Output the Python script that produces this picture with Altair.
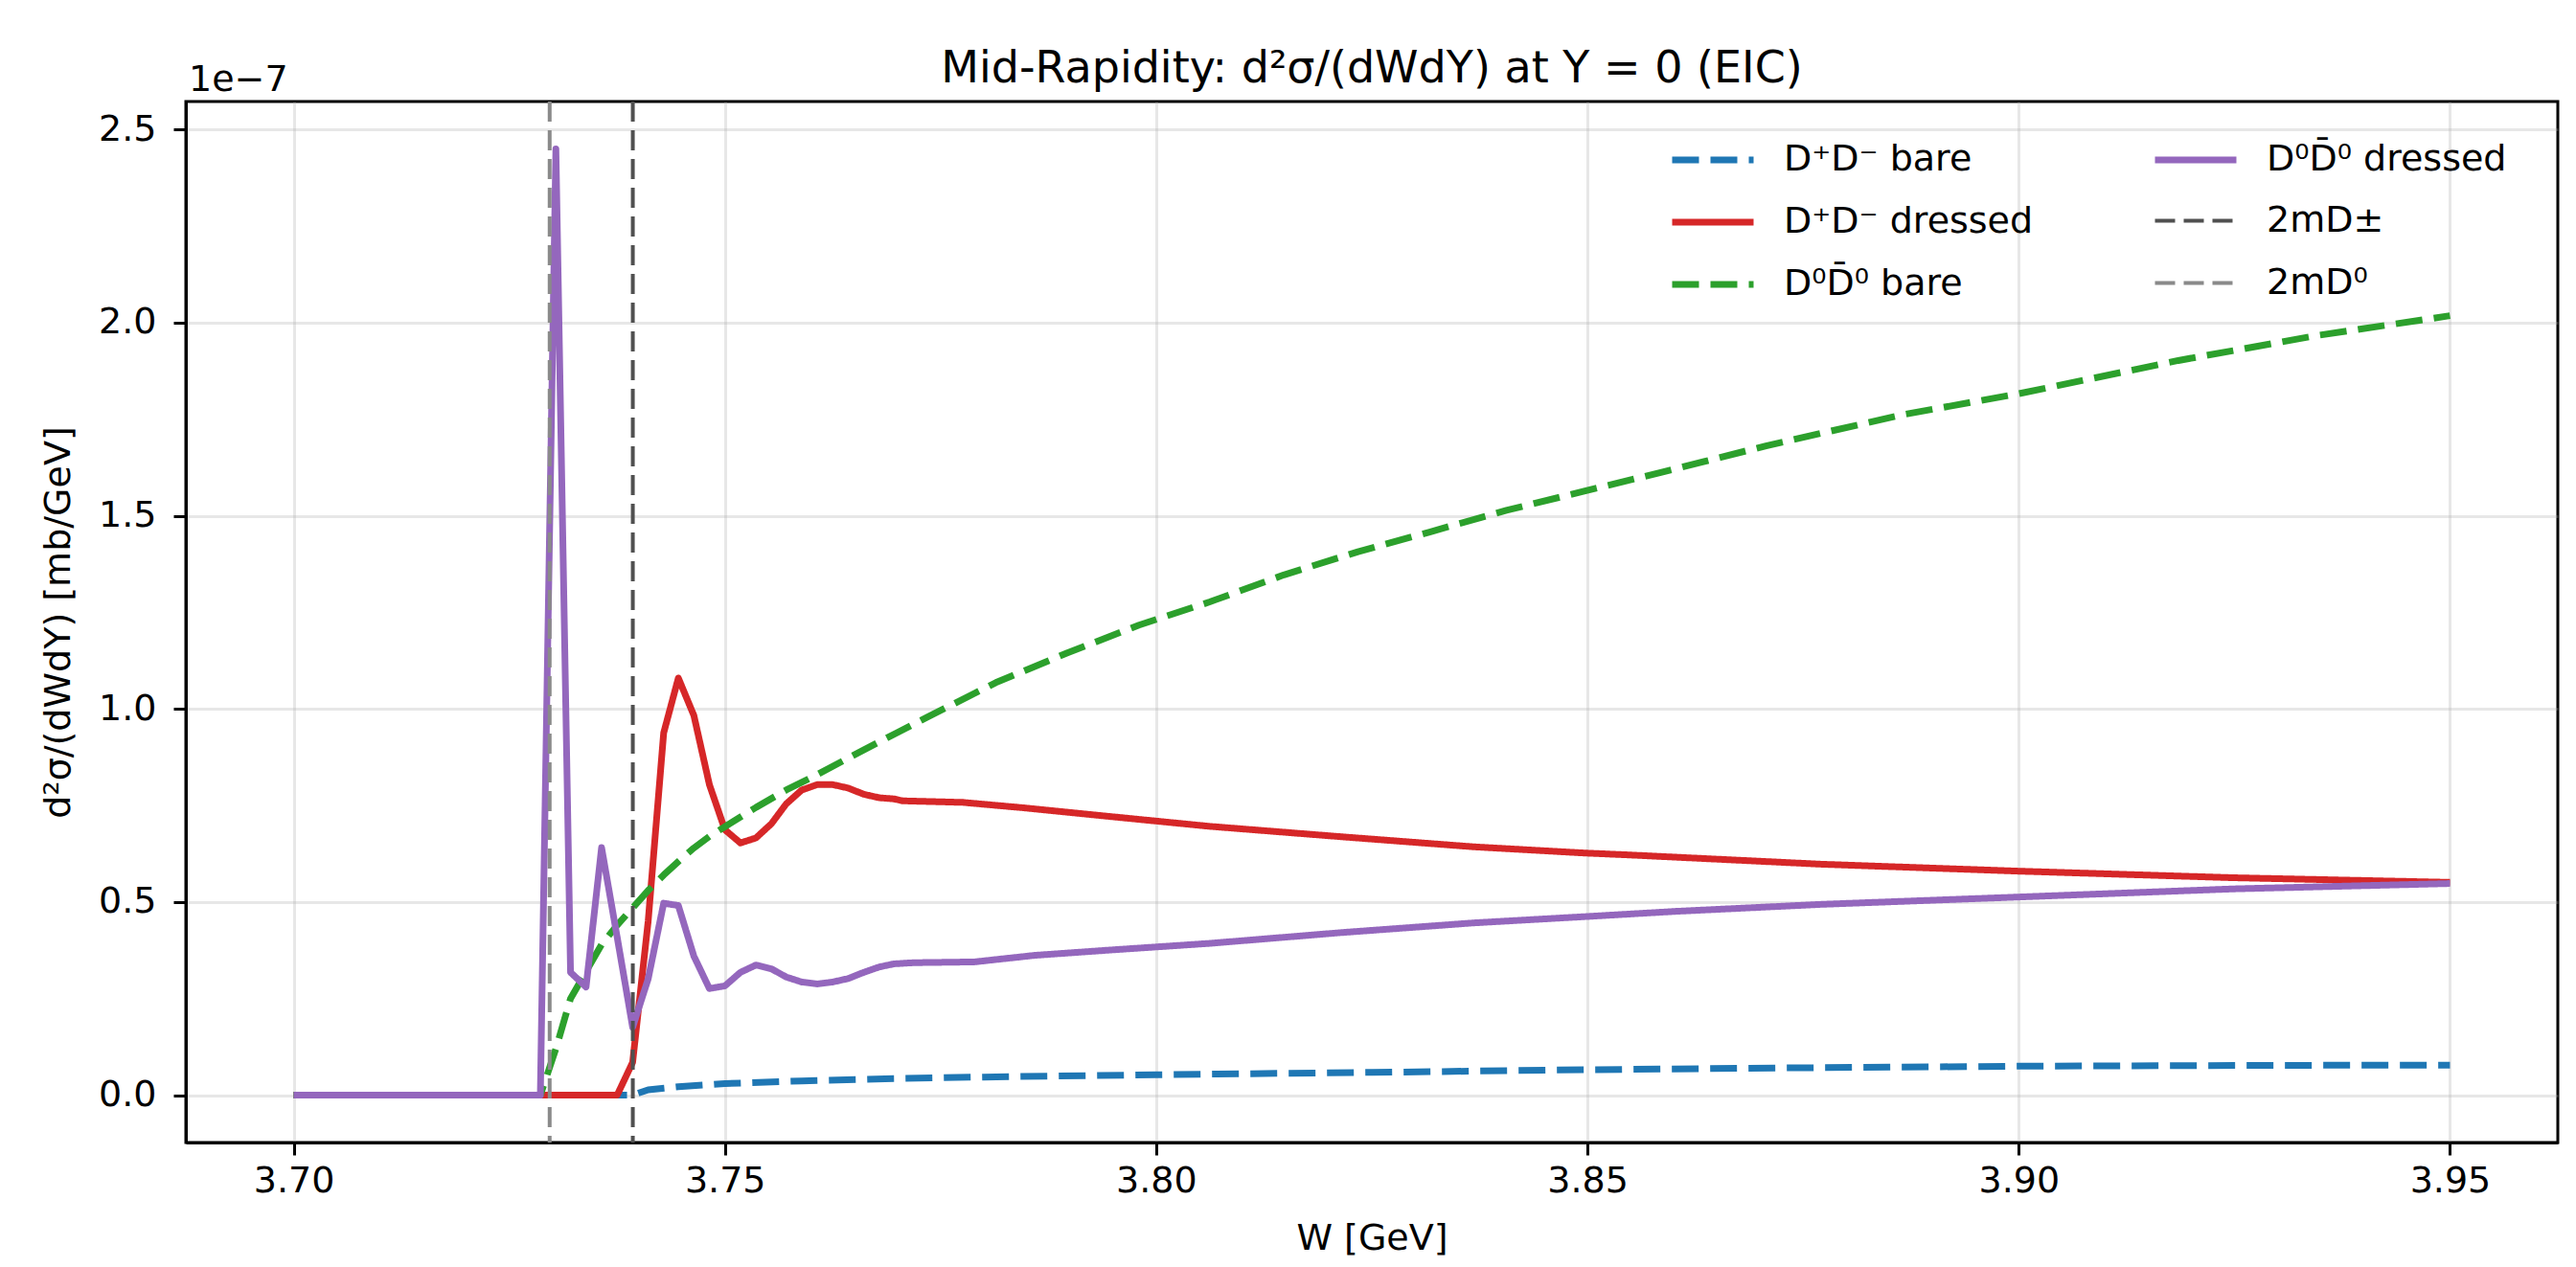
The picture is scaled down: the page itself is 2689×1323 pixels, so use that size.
import altair as alt
import pandas as pd

# ---------------- data ----------------
# D+D- bare (blue, dashed)
W_pm_bare = [3.7000, 3.7393, 3.7411, 3.7446, 3.7500, 3.7589, 3.7696, 3.7800,
             3.8000, 3.8250, 3.8500, 3.8750, 3.9000, 3.9250, 3.9500]
V_pm_bare = [0.0, 0.0, 0.014, 0.022, 0.030, 0.037, 0.043, 0.047,
             0.053, 0.059, 0.066, 0.071, 0.075, 0.077, 0.078]

# D+D- dressed (red, solid)
W_pm_dr = [3.7000, 3.7375, 3.7393, 3.7411, 3.7429, 3.7446, 3.7464, 3.7482,
           3.7500, 3.7518, 3.7536, 3.7554, 3.7571, 3.7589, 3.7607, 3.7625,
           3.7643, 3.7661, 3.7679, 3.7696, 3.7706, 3.7776, 3.7846, 3.7935,
           3.8062, 3.8215, 3.8368, 3.8496, 3.8548, 3.8771, 3.9000, 3.9248,
           3.9500]
V_pm_dr = [0.0, 0.0, 0.085, 0.45, 0.938, 1.08, 0.983, 0.804,
           0.687, 0.653, 0.666, 0.703, 0.754, 0.790, 0.804, 0.804,
           0.795, 0.779, 0.770, 0.767, 0.762, 0.758, 0.744, 0.724,
           0.696, 0.669, 0.643, 0.627, 0.622, 0.598, 0.580, 0.563,
           0.551]

# D0 D0bar bare (green, dashed)
W_00_bare = [3.7000, 3.7286, 3.7304, 3.7321, 3.7339, 3.7357, 3.7375, 3.7393,
             3.7411, 3.7429, 3.7446, 3.7464, 3.7482, 3.7500, 3.7536, 3.7571,
             3.7607, 3.7655, 3.7734, 3.7814, 3.7897, 3.7980, 3.8062, 3.8148,
             3.8234, 3.8317, 3.8406, 3.8495, 3.8585, 3.8707, 3.8866, 3.9000,
             3.9185, 3.9344, 3.9500]
V_00_bare = [0.0, 0.0, 0.12, 0.25, 0.32, 0.39, 0.44, 0.485,
             0.53, 0.57, 0.605, 0.64, 0.67, 0.695, 0.745, 0.79,
             0.83, 0.887, 0.978, 1.068, 1.145, 1.217, 1.277, 1.347,
             1.407, 1.458, 1.514, 1.563, 1.612, 1.681, 1.762, 1.816,
             1.902, 1.966, 2.018]

# D0 D0bar dressed (purple, solid)
W_00_dr = [3.7000, 3.7286, 3.7304, 3.7321, 3.7339, 3.7357, 3.7375, 3.7393,
           3.7411, 3.7429, 3.7446, 3.7464, 3.7482, 3.7500, 3.7518, 3.7536,
           3.7554, 3.7571, 3.7589, 3.7607, 3.7625, 3.7643, 3.7661, 3.7679,
           3.7696, 3.7719, 3.7789, 3.7859, 3.7948, 3.8062, 3.8215, 3.8368,
           3.8495, 3.8603, 3.8771, 3.9000, 3.9248, 3.9500]
V_00_dr = [0.0, 0.0, 2.45, 0.318, 0.280, 0.641, 0.41, 0.176,
           0.301, 0.497, 0.491, 0.360, 0.276, 0.283, 0.318, 0.337,
           0.327, 0.306, 0.293, 0.288, 0.293, 0.302, 0.318, 0.332,
           0.340, 0.343, 0.345, 0.362, 0.376, 0.393, 0.421, 0.446,
           0.462, 0.476, 0.494, 0.513, 0.534, 0.548]

# thresholds (GeV)
thr_names = ["2mD±", "2mD⁰"]
thr_W = [3.73932, 3.72968]

S_PM_BARE = "D⁺D⁻ bare"
S_PM_DR = "D⁺D⁻ dressed"
S_00_BARE = "D⁰D̄⁰ bare"
S_00_DR = "D⁰D̄⁰ dressed"

TITLE = "Mid-Rapidity: d²σ/(dWdY) at Y = 0 (EIC)"
OFFSET_TEXT = "1e−7"
x_ticks = [3.70, 3.75, 3.80, 3.85, 3.90, 3.95]
y_ticks = [0.0, 0.5, 1.0, 1.5, 2.0, 2.5]

# ---------------- build tables ----------------
rows = []
for name, ws, vs in [(S_PM_BARE, W_pm_bare, V_pm_bare),
                     (S_PM_DR, W_pm_dr, V_pm_dr),
                     (S_00_BARE, W_00_bare, V_00_bare),
                     (S_00_DR, W_00_dr, V_00_dr)]:
    for w, v in zip(ws, vs):
        rows.append({"W": w, "val": v, "series": name})
curves = pd.DataFrame(rows)
thr = pd.DataFrame({"W": thr_W, "series": thr_names})

# legend is filled column by column (3 rows x 2 columns)
dom = [S_PM_BARE, S_PM_DR, S_00_BARE, S_00_DR, thr_names[0], thr_names[1]]
col_rng = ["#1f77b4", "#d62728", "#2ca02c", "#9467bd", "#505050", "#8a8a8a"]
dash_rng = [[28, 12], [1, 0], [28, 12], [1, 0], [21, 9], [21, 9]]
width_rng = [7, 7, 7, 7, 4, 4]

FONT = "DejaVu Sans"
FS = 38
PW, PH = 2476, 1087

color_enc = alt.Color("series:N", scale=alt.Scale(domain=dom, range=col_rng),
                      legend=alt.Legend(title=None, orient="none",
                                        legendX=1548, legendY=15,
                                        columns=2, columnPadding=112,
                                        rowPadding=-7, symbolType="stroke",
                                        symbolSize=7225, labelOffset=28,
                                        labelFontSize=FS, labelFont=FONT,
                                        labelColor="black", padding=0,
                                        labelLimit=600))
dash_enc = alt.StrokeDash("series:N", scale=alt.Scale(domain=dom, range=dash_rng),
                          legend=None)
sw_enc = alt.StrokeWidth("series:N",
                         scale=alt.Scale(type="ordinal", domain=dom, range=width_rng),
                         legend=None)

x_enc = alt.X("W:Q", scale=alt.Scale(domain=[3.6875, 3.9625], nice=False, zero=False),
              axis=alt.Axis(values=x_ticks, format=".2f", title="W [GeV]",
                            labelPadding=8, titlePadding=22))
y_enc = alt.Y("val:Q", scale=alt.Scale(domain=[-0.1225, 2.5725], nice=False, zero=False),
              axis=alt.Axis(values=y_ticks, format=".1f",
                            title="d²σ/(dWdY) [mb/GeV]",
                            labelPadding=18, titlePadding=22))

base = alt.Chart(curves)
layers = []
for s in [S_PM_BARE, S_PM_DR, S_00_BARE, S_00_DR]:
    layers.append(
        base.transform_filter(alt.datum.series == s)
        .mark_line(clip=True, strokeCap="butt", strokeJoin="round")
        .encode(x=x_enc, y=y_enc, color=color_enc, strokeDash=dash_enc,
                strokeWidth=sw_enc)
    )

rules = alt.Chart(thr).mark_rule(strokeCap="butt").encode(
    x=alt.X("W:Q"), color=color_enc, strokeDash=dash_enc, strokeWidth=sw_enc
)

texts = pd.DataFrame({"t": [OFFSET_TEXT]})
offset_txt = alt.Chart(texts).mark_text(
    align="left", baseline="alphabetic", fontSize=FS, font=FONT, color="black"
).encode(x=alt.value(3), y=alt.value(-11), text="t:N")

title_txt = alt.Chart(pd.DataFrame({"t": [TITLE]})).mark_text(
    align="center", baseline="alphabetic", fontSize=46, font=FONT, color="black"
).encode(x=alt.value(PW / 2), y=alt.value(-20), text="t:N")

chart = alt.layer(*layers, rules, offset_txt, title_txt).properties(
    width=PW, height=PH,
    background="white",
    autosize=alt.AutoSizeParams(type="none"),
    padding={"left": 186, "top": 98, "right": 11, "bottom": 120},
).configure_view(
    stroke="black", strokeWidth=3
).configure_axis(
    labelFont=FONT, labelFontSize=FS, labelColor="black",
    titleFont=FONT, titleFontSize=FS, titleFontWeight="normal", titleColor="black",
    domainColor="black", domainWidth=3, tickColor="black", tickWidth=3, tickSize=13,
    gridColor="#b0b0b0", gridOpacity=0.3, gridWidth=3
)

chart.save("out.html", embed_options={"renderer": "svg", "actions": False})
